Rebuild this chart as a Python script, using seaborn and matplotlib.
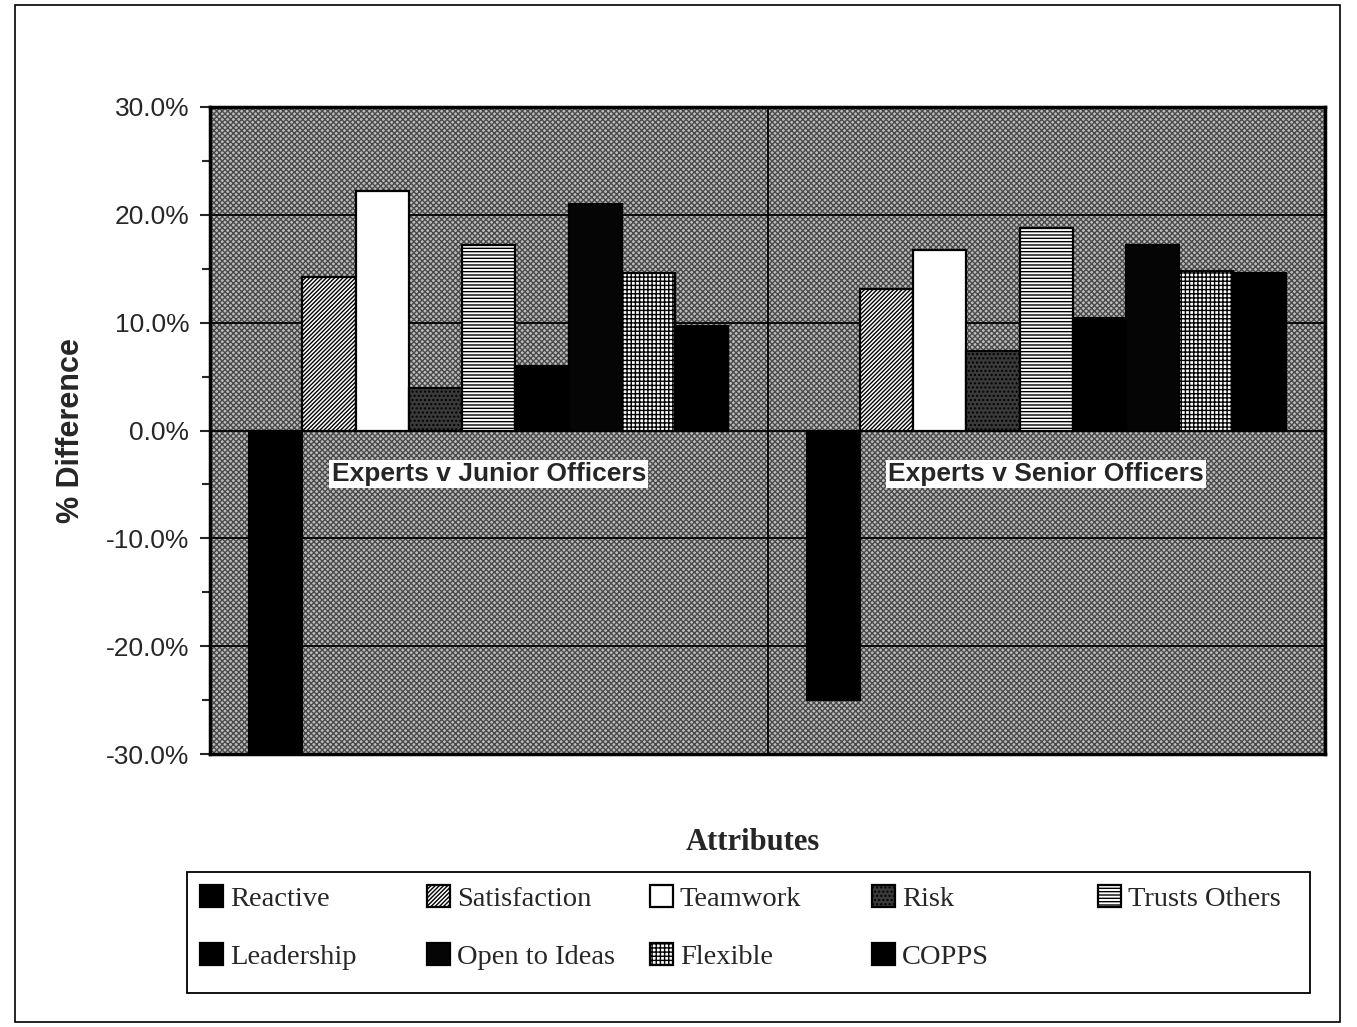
import matplotlib
matplotlib.use("Agg")
import matplotlib.pyplot as plt
import seaborn as sns
import pandas as pd
from matplotlib.ticker import MultipleLocator, FuncFormatter
from matplotlib.patches import Rectangle

# ---- data ----
groups = ["Experts v Junior Officers", "Experts v Senior Officers"]
attributes = ["Reactive", "Satisfaction", "Teamwork", "Risk", "Trusts Others",
              "Leadership", "Open to Ideas", "Flexible", "COPPS"]
junior_values = [-30.0, 14.2, 22.2, 3.9, 17.2, 6.0, 21.0, 14.6, 9.7]
senior_values = [-25.0, 13.1, 16.7, 7.4, 18.8, 10.4, 17.2, 14.8, 14.6]
y_ticks = [-30, -20, -10, 0, 10, 20, 30]

# styles per attribute (face, hatch)
faces = ["#000000", "#ffffff", "#ffffff", "#3a3a3a", "#ffffff",
         "#000000", "#050505", "#ffffff", "#000000"]
hatches = [None, "////////", None, "....", "-----", None, None, "++++", None]

rows = []
for g, vals in zip(groups, [junior_values, senior_values]):
    for a, v in zip(attributes, vals):
        rows.append({"group": g, "attribute": a, "value": v})
df = pd.DataFrame(rows)

sns.set_style("white")
plt.rcParams["font.family"] = ["Liberation Sans", "DejaVu Sans"]
plt.rcParams["hatch.linewidth"] = 1.0
plt.rcParams["hatch.color"] = "black"
serif = ["Liberation Serif", "DejaVu Serif"]

fig = plt.figure(figsize=(13.57, 10.27), dpi=100)
W, H = 1357, 1027
ax = fig.add_axes([210 / W, 1 - 754 / H, 1115 / W, 647 / H])

ax.set_facecolor("#bdbdbd")
ax.patch.set_hatch("xxxxxx")
ax.patch.set_edgecolor("#4a4a4a")
ax.patch.set_linewidth(0)

sns.barplot(data=df, x="group", y="value", hue="attribute", hue_order=attributes,
            palette=dict(zip(attributes, faces)), width=0.86, saturation=1,
            edgecolor="black", linewidth=1.6, legend=False, ax=ax, zorder=3)

for cont, fc, h in zip(ax.containers, faces, hatches):
    for p in cont:
        p.set_facecolor(fc)
        p.set_edgecolor("black")
        if h:
            p.set_hatch(h)

ax.set_ylim(-30, 30)
ax.set_xlim(-0.5, 1.5)
ax.yaxis.set_minor_locator(MultipleLocator(5))
ax.set_yticks(y_ticks)
ax.yaxis.set_major_formatter(FuncFormatter(lambda v, p: f"{v:.1f}%"))
ax.tick_params(axis="y", which="major", direction="out", length=7, width=1.5,
               labelsize=19, pad=8, left=True)
ax.tick_params(axis="y", which="minor", direction="out", length=6, width=1.5, left=True)
ax.set_xticks([])

ax.set_axisbelow(True)
ax.yaxis.grid(True, which="major", color="black", linewidth=1.3, zorder=1)
ax.axvline(0.5, color="black", linewidth=1.3, zorder=1)

for s in ax.spines.values():
    s.set_visible(True)
    s.set_color("black")
    s.set_linewidth(2.5)

ax.set_ylabel("% Difference", fontsize=22, fontweight="bold", labelpad=14)
ax.set_xlabel("Attributes", fontsize=22, fontweight="bold", family=serif, labelpad=53)
ax.xaxis.label.set_x((753 - 210) / 1115)

for i, g in enumerate(groups):
    ax.text(i, -4.0, g, ha="center", va="center", fontsize=19, fontweight="bold",
            zorder=5, bbox=dict(facecolor="white", edgecolor="none", pad=1.5))

# legend: five columns on an even grid, two rows, inside one box
col_x = [200, 427, 650, 872, 1098]
columns = [[0, 5], [1, 6], [2, 7], [3, 8], [4]]
for x, idx in zip(col_x, columns):
    fig.legend([ax.containers[i] for i in idx], [attributes[i] for i in idx],
               loc="upper left", bbox_to_anchor=(x / W, 1 - 885 / H),
               prop={"family": serif, "size": 20.5}, frameon=False,
               borderaxespad=0, borderpad=0, handlelength=0.8, handleheight=0.8,
               handletextpad=0.25, labelspacing=1.1)

fig.patches.append(Rectangle((187 / W, 1 - 993 / H), 1123 / W, 121 / H,
                             transform=fig.transFigure, fill=False, edgecolor="black",
                             linewidth=1.3))
fig.patches.append(Rectangle((15 / W, 1 - 1022 / H), 1325 / W, 1017 / H,
                             transform=fig.transFigure, fill=False, edgecolor="black",
                             linewidth=1.2))

fig.savefig("out.png", dpi=100, facecolor="white")
